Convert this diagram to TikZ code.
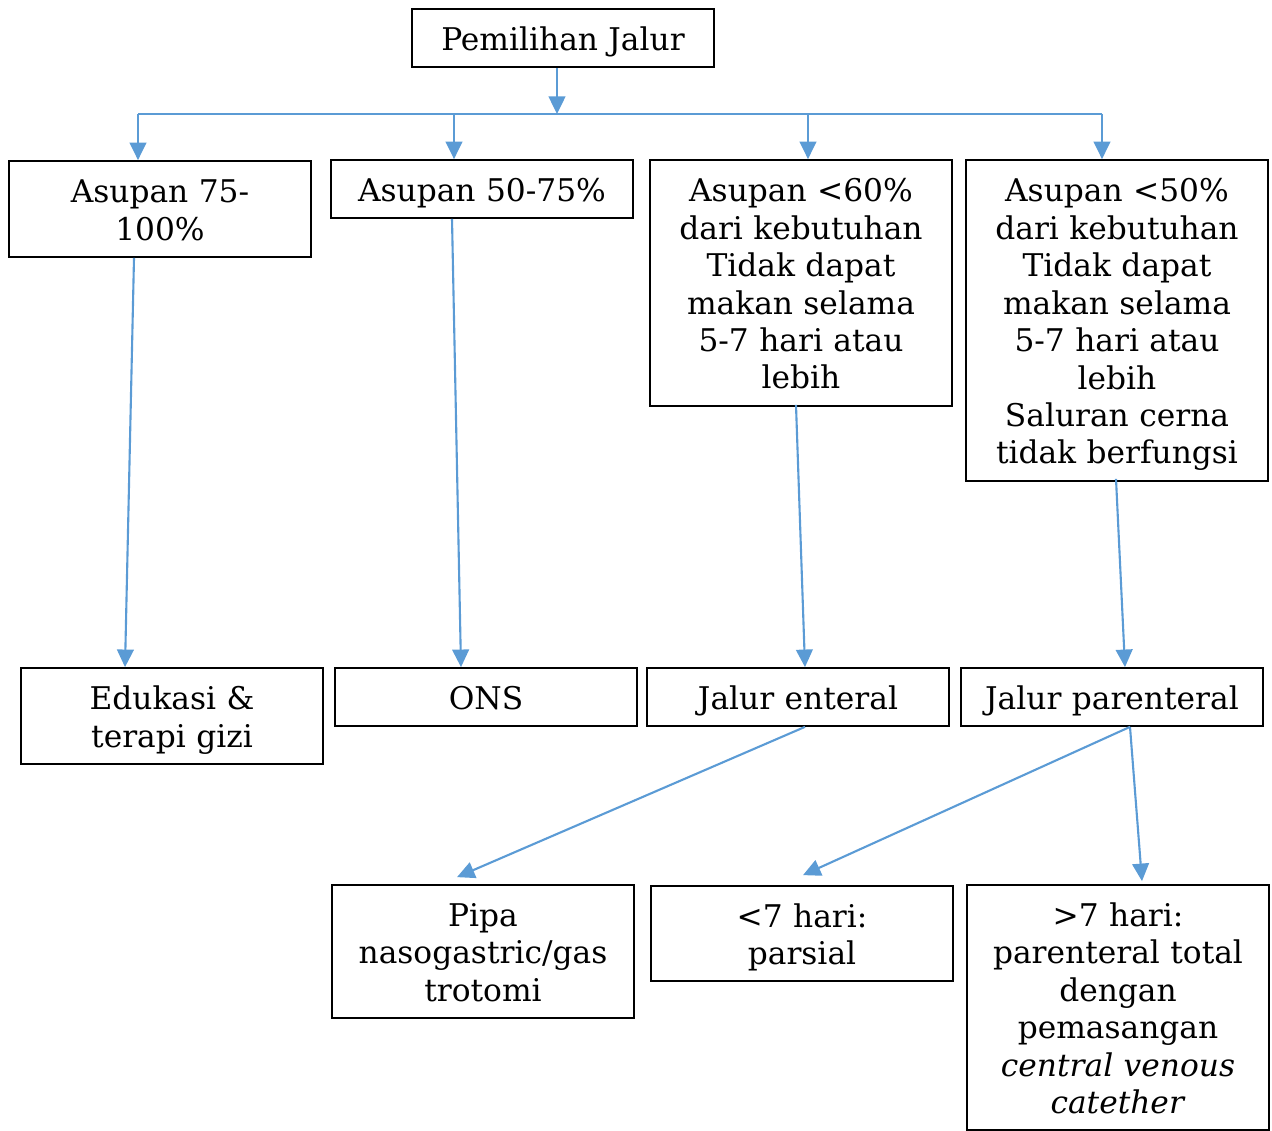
\documentclass[tikz,border=0pt]{standalone}
\usepackage{fontspec}
\setmainfont{DejaVu Serif}
\usetikzlibrary{arrows.meta}
\definecolor{lineblue}{HTML}{5B9BD5}
\begin{document}
\begin{tikzpicture}
			[x=0.02cm,y=-0.02cm,
			box/.style={draw,line width=1pt,text width=6.04cm,align=center,inner sep=0pt,
				font=\fontsize{17.8}{21.3}\selectfont,
				execute at begin node={\rule{0pt}{20.5pt}},execute at end node=\strut},
			link/.style={draw=lineblue,line width=1.2pt},
			>={Triangle[length=10pt,width=9.5pt]}]
			\useasboundingbox (0,0) rectangle (1272,1131);
			\node[box,name=top,minimum height=1.16cm] at (563,38) {Pemilihan Jalur};
			\node[box,name=a1,minimum height=1.92cm] at (160,209) {Asupan 75-\\100\%};
			\node[box,name=a2,minimum height=1.16cm] at (482,189) {Asupan 50-75\%};
			\node[box,name=a3,minimum height=4.92cm] at (801,283) {Asupan <60\%\\dari kebutuhan\\Tidak dapat\\makan selama\\5-7 hari atau\\lebih};
			\node[box,name=a4,minimum height=6.42cm] at (1117,320.5) {Asupan <50\%\\dari kebutuhan\\Tidak dapat\\makan selama\\5-7 hari atau\\lebih\\Saluran cerna\\tidak berfungsi};
			\node[box,name=b1,minimum height=1.92cm] at (172,716) {Edukasi \&\\terapi gizi};
			\node[box,name=b2,minimum height=1.16cm] at (486,697) {ONS};
			\node[box,name=b3,minimum height=1.16cm] at (798,697) {Jalur enteral};
			\node[box,name=b4,minimum height=1.16cm] at (1112,697) {Jalur parenteral};
			\node[box,name=c1,minimum height=2.66cm] at (483,951.5) {Pipa\\nasogastric/gas\\trotomi};
			\node[box,name=c2,minimum height=1.90cm] at (802,933.5) {<7 hari:\\parsial};
			\node[box,name=c3,minimum height=4.90cm] at (1118,1007.5) {>7 hari:\\parenteral total\\dengan\\pemasangan\\\textit{central venous}\\\textit{catether}};
			% bus line
			\coordinate (busL) at (138,114);
			\coordinate (busR) at (1102,114);
			\draw[link] (busL)--(busR);
			\draw[->,link]([xshift=-0.12cm]top.south)--([xshift=-0.12cm]top.south |- busL);
			\draw[->,link](busL)--(busL |- a1.north);
			\draw[->,link]([xshift=-0.56cm]a2.north |- busL)--([xshift=-0.56cm]a2.north);
			\draw[->,link]([xshift=0.14cm]a3.north |- busL)--([xshift=0.14cm]a3.north);
			\draw[->,link](busR)--(busR |- a4.north);
			% down to the routes
			\draw[->,link]([xshift=-0.52cm]a1.south)--([xshift=-0.94cm]b1.north);
			\draw[->,link]([xshift=-0.60cm]a2.south)--([xshift=-0.50cm]b2.north);
			\draw[->,link]([xshift=-0.10cm,yshift=0.04cm]a3.south)--([xshift=0.14cm]b3.north);
			\draw[->,link]([xshift=-0.02cm,yshift=0.06cm]a4.south)--([xshift=0.26cm]b4.north);
			\draw[->,link]([xshift=0.14cm]b3.south)--([xshift=-0.52cm,yshift=0.14cm]c1.north);
			\draw[->,link]([xshift=0.36cm]b4.south)--([xshift=0.02cm,yshift=0.2cm]c2.north);
			\draw[->,link]([xshift=0.36cm]b4.south)--([xshift=0.48cm,yshift=0.06cm]c3.north);
		\end{tikzpicture}
\end{document}
